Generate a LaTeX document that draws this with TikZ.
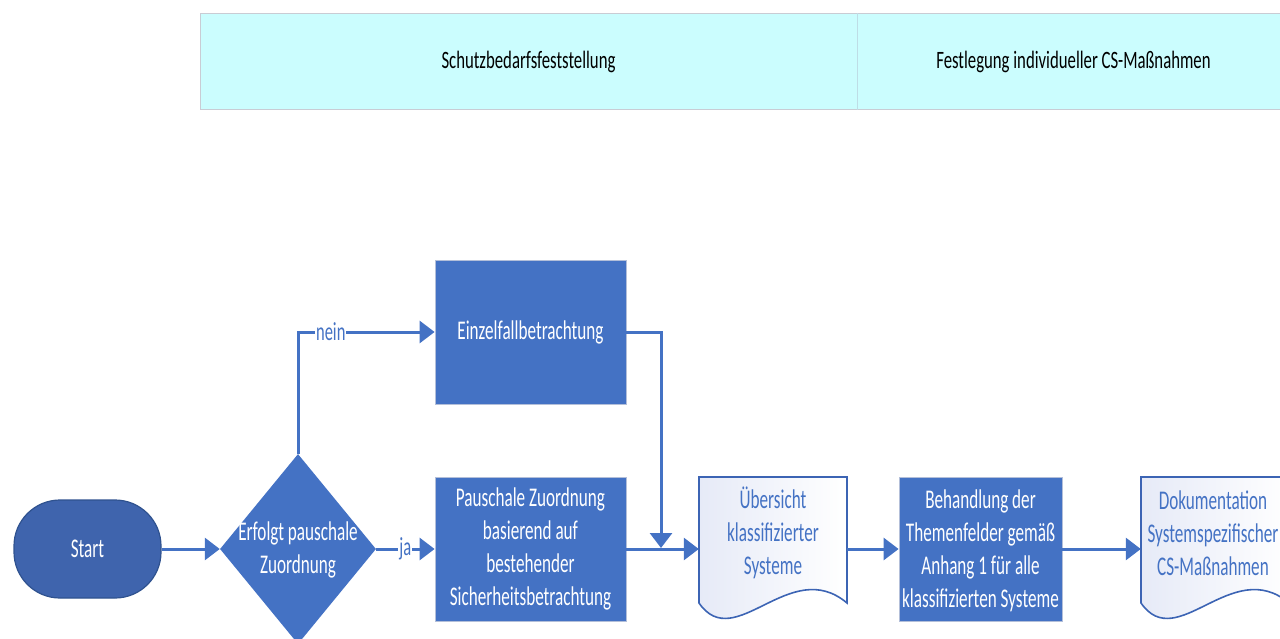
\documentclass[tikz,border=0pt]{standalone}
\usepackage{fontspec}
\setmainfont{Carlito}
\newfontfamily\bodyf[FakeStretch=0.635]{Carlito}
\newfontfamily\headf[FakeStretch=0.67]{Carlito}
\usetikzlibrary{arrows.meta,shapes.geometric}
\definecolor{boxblue}{HTML}{4472C4}
\definecolor{startblue}{HTML}{3F64AD}
\definecolor{darkblue}{HTML}{2F528F}
\definecolor{lanefill}{HTML}{CBFDFE}
\definecolor{laneline}{HTML}{C9CCD4}
\definecolor{lanediv}{HTML}{BEDDE6}
\definecolor{boxline}{HTML}{B3BFD9}
\definecolor{docfill}{HTML}{E6EAF7}
\definecolor{docline}{HTML}{3C64B4}
\begin{document}
\begin{tikzpicture}[x=1pt,y=-1pt,
  lanebox/.style={fill=lanefill, draw=laneline, line width=1pt, inner sep=0pt,
    font=\headf\fontsize{25}{30}\selectfont, text=black},
  flowbox/.style={rectangle, fill=boxblue, draw=boxline, line width=0.8pt, inner sep=0pt,
    text=white, align=center, font=\bodyf\fontsize{27}{33}\selectfont},
  txt/.style={align=center, inner sep=0pt, font=\bodyf\fontsize{27}{33}\selectfont},
  docbox/.style={draw=none, inner sep=0pt},
  docshape/.style={draw=docline, line width=1.6pt, left color=docfill, right color=white},
  conn/.style={draw=boxblue, line width=3pt, -{Triangle[length=15pt,width=22pt]}},
  lab/.style={fill=white, inner sep=1pt, text=boxblue, font=\bodyf\fontsize{26}{30}\selectfont}
]
\useasboundingbox (0,0) rectangle (1280,639);

% header lanes
\node[lanebox, minimum width=657pt, minimum height=96pt] (lane1) at (528.5,62) {Schutzbedarfsfeststellung};
\node[lanebox, minimum width=433pt, minimum height=96pt] (lane2) at (1073.5,62) {Festlegung individueller CS-Maßnahmen};
\draw[lanediv, line width=1pt] (lane1.north east) -- (lane1.south east);

% start
\node[rectangle, rounded corners=46pt, fill=startblue, draw=darkblue, line width=1.2pt,
  minimum width=147pt, minimum height=98pt, text=white, font=\bodyf\fontsize{27}{33}\selectfont] (start) at (87.5,549) {Start};

% decision
\node[diamond, fill=boxblue, draw=none, inner sep=0pt, minimum width=156pt, minimum height=190pt] (dia) at (298,549) {};
\node[txt, text=white] (diatext) at (298,550) {Erfolgt pauschale\\Zuordnung};

% boxes
\node[flowbox, minimum width=191pt, minimum height=144pt] (einz) at (530.5,332) {Einzelfallbetrachtung};
\node[flowbox, minimum width=191pt, minimum height=144pt] (pau) at (530.5,549) {Pauschale Zuordnung\\basierend auf\\bestehender\\Sicherheitsbetrachtung};
\node[flowbox, minimum width=163pt, minimum height=144pt] (beh) at (980.5,549) {};
\node[txt, text=white] (behtext) at (980.5,551) {Behandlung der\\Themenfelder gemäß\\Anhang 1 für alle\\klassifizierten Systeme};

% documents
\node[docbox, minimum width=148pt, minimum height=144pt] (ueb) at (773,549) {};
\path[docshape] (699,477) -- (847,477) -- (847,603) .. controls (790,555) and (735,655) .. (699,603) -- cycle;
\node[txt, text=boxblue] (uebtext) at (773,533) {Übersicht\\klassifizierter\\Systeme};

\node[docbox, minimum width=148pt, minimum height=144pt] (dok) at (1215,549) {};
\path[docshape] (1141,477) -- (1289,477) -- (1289,603) .. controls (1232,555) and (1177,655) .. (1141,603) -- cycle;
\node[txt, text=boxblue] (doktext) at (1213,533) {Dokumentation\\Systemspezifischer\\CS-Maßnahmen};

% connectors
\coordinate (join) at (661,548);
\draw[conn] (start) -- (dia);
\draw[conn] (dia) -- node[lab]{ja} (pau);
\draw[conn] (dia.north) |- node[lab, pos=0.62]{nein} (einz);
\draw[conn] (einz) -| (join);
\draw[conn] (pau) -- (ueb);
\draw[conn] (ueb) -- (beh);
\draw[conn] (beh) -- (dok);
\end{tikzpicture}
\end{document}
